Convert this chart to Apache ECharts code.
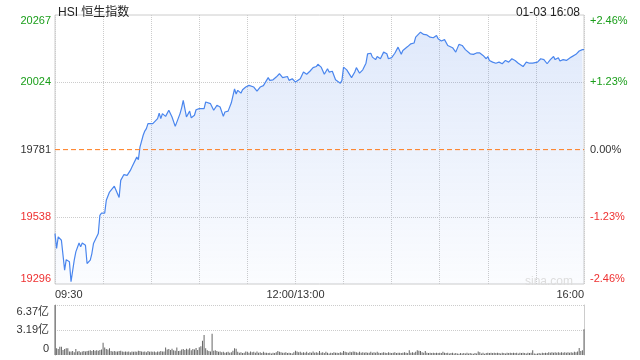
<!DOCTYPE html>
<html>
<head>
<meta charset="UTF-8">
<title>HSI 恒生指数</title>
<script src="https://cdn.jsdelivr.net/npm/echarts@6/dist/echarts.min.js"></script>
<style>
  html, body { margin: 0; padding: 0; background: #fff; }
  #chart { width: 640px; height: 360px; }
</style>
</head>
<body>
<div id="chart"></div>
<script>
// 分时：距 09:30 的分钟数（午休去掉，150 = 12:00/13:00，330 = 16:00）
const minutes = [
  0, 1, 2, 4, 6, 7, 9, 10, 12, 13,
  15, 16, 17, 19, 20, 22, 23, 24, 25, 27,
  28, 29, 31, 32, 34, 35, 37, 39, 40, 41,
  43, 45, 47, 48, 49, 51, 52, 53, 55, 56,
  57, 58, 61, 62, 64, 65, 66, 67, 69, 71,
  73, 75, 76, 78, 79, 80, 82, 84, 85, 87,
  88, 90, 93, 94, 97, 99, 101, 103, 105, 106,
  108, 110, 112, 113, 114, 116, 117, 119, 121, 122,
  124, 126, 128, 130, 133, 134, 136, 138, 140, 142,
  145, 146, 148, 150, 153, 155, 157, 159, 161, 163,
  164, 166, 168, 170, 171, 173, 175, 178, 179, 180,
  182, 185, 187, 188, 190, 192, 194, 195, 197, 198,
  200, 201, 203, 205, 207, 208, 210, 212, 214, 216,
  217, 220, 222, 224, 225, 228, 230, 232, 234, 236,
  238, 239, 241, 243, 245, 248, 250, 251, 252, 254,
  256, 259, 261, 263, 265, 267, 269, 270, 271, 273,
  275, 277, 279, 281, 283, 285, 287, 289, 292, 294,
  296, 298, 301, 303, 305, 307, 309, 311, 312, 314,
  315, 317, 319, 322, 323, 325, 327, 329, 330
]
const prices = [
  19478, 19424, 19466, 19454, 19346, 19384, 19376, 19304, 19382, 19412,
  19444, 19430, 19444, 19436, 19370, 19382, 19406, 19442, 19436, 19478,
  19544, 19552, 19552, 19598, 19628, 19622, 19649, 19622, 19608, 19670,
  19691, 19688, 19706, 19718, 19712, 19754, 19745, 19790, 19833, 19848,
  19857, 19875, 19875, 19881, 19893, 19913, 19893, 19911, 19901, 19923,
  19899, 19865, 19865, 19911, 19932, 19959, 19899, 19920, 19896, 19905,
  19925, 19929, 19929, 19953, 19947, 19923, 19941, 19935, 19901, 19917,
  19920, 19950, 20000, 19982, 19995, 19985, 19997, 20007, 20013, 20016,
  20007, 19992, 20007, 20012, 20041, 20031, 20033, 20043, 20055, 20041,
  20045, 20031, 20037, 20025, 20037, 20061, 20053, 20064, 20077, 20081,
  20089, 20079, 20053, 20073, 20061, 20064, 20033, 20021, 20031, 20079,
  20069, 20041, 20061, 20077, 20057, 20069, 20093, 20127, 20129, 20115,
  20106, 20117, 20109, 20133, 20127, 20109, 20113, 20129, 20151, 20125,
  20139, 20153, 20163, 20166, 20187, 20205, 20197, 20195, 20187, 20185,
  20193, 20181, 20173, 20178, 20157, 20149, 20133, 20139, 20161, 20157,
  20142, 20127, 20125, 20130, 20130, 20121, 20109, 20117, 20103, 20097,
  20093, 20097, 20091, 20103, 20097, 20109, 20103, 20093, 20081, 20097,
  20093, 20093, 20097, 20109, 20106, 20091, 20106, 20117, 20106, 20113,
  20101, 20106, 20103, 20115, 20117, 20125, 20137, 20142, 20142
]
// 成交额（亿），每分钟一根，分钟 0..330
const volumes = [
  6.37, 0.85, 0.75, 1.05, 1.05, 0.65, 0.75, 0.85, 0.85, 0.45, 0.45,
  0.5, 0.35, 0.75, 0.45, 0.5, 0.35, 0.45, 0.5, 0.45, 0.5,
  0.55, 0.6, 0.5, 0.65, 0.55, 0.6, 0.55, 0.65, 0.7, 1.57,
  0.95, 0.75, 0.7, 0.85, 0.5, 0.45, 0.5, 0.45, 0.45, 0.5,
  0.55, 0.45, 0.4, 0.45, 0.4, 0.45, 0.35, 0.45, 0.4, 0.45,
  0.4, 0.55, 0.5, 0.45, 0.4, 0.45, 0.35, 0.5, 0.4, 0.45,
  0.4, 0.45, 0.35, 0.45, 0.4, 0.5, 0.45, 0.45, 0.95, 0.7,
  0.75, 0.65, 0.8, 0.6, 0.55, 0.95, 0.5, 0.55, 0.7, 0.75,
  0.65, 0.8, 0.7, 0.85, 0.6, 0.75, 0.7, 0.9, 0.65, 1.0,
  1.1, 1.83, 2.55, 0.85, 0.6, 0.5, 0.45, 2.72, 0.55, 0.6,
  0.5, 0.4, 0.45, 0.35, 0.4, 0.3, 0.35, 0.4, 0.3, 0.35,
  0.55, 0.85, 0.8, 0.4, 0.3, 0.35, 0.25, 0.3, 0.45, 0.4,
  0.3, 0.45, 0.35, 0.4, 0.3, 0.45, 0.3, 0.35, 0.25, 0.4,
  0.3, 0.3, 0.25, 0.3, 0.2, 0.3, 0.25, 0.35, 0.5, 0.4,
  0.35, 0.3, 0.3, 0.35, 0.25, 0.3, 0.25, 0.2, 0.35, 0.55,
  0.45, 0.35, 0.4, 0.3, 0.35, 0.3, 0.4, 0.25, 0.35, 0.3,
  0.45, 0.3, 0.35, 0.3, 0.5, 0.3, 0.35, 0.25, 0.4, 0.3,
  0.2, 0.3, 0.25, 0.35, 0.3, 0.3, 0.25, 0.35, 0.3, 0.5,
  0.4, 0.35, 0.3, 0.4, 0.35, 0.45, 0.4, 0.35, 0.3, 0.4,
  0.3, 0.35, 0.3, 0.35, 0.3, 0.3, 0.4, 0.3, 0.35, 0.3,
  0.4, 0.3, 0.25, 0.3, 0.35, 0.3, 0.25, 0.35, 0.3, 0.25,
  0.3, 0.35, 0.25, 0.3, 0.3, 0.25, 0.3, 0.35, 0.3, 0.25,
  0.6, 0.3, 0.35, 0.3, 0.4, 0.6, 0.55, 0.5, 0.35, 0.3,
  0.5, 0.3, 0.25, 0.3, 0.25, 0.3, 0.25, 0.3, 0.25, 0.3,
  0.25, 0.4, 0.3, 0.25, 0.3, 0.2, 0.25, 0.3, 0.2, 0.25,
  0.2, 0.15, 0.25, 0.2, 0.25, 0.2, 0.3, 0.2, 0.25, 0.2,
  0.15, 0.25, 0.2, 0.45, 0.35, 0.2, 0.3, 0.15, 0.25, 0.3,
  0.25, 0.3, 0.25, 0.3, 0.25, 0.3, 0.25, 0.2, 0.3, 0.25,
  0.2, 0.3, 0.25, 0.3, 0.25, 0.3, 0.25, 0.3, 0.2, 0.3,
  0.25, 0.3, 0.25, 0.2, 0.3, 0.25, 0.3, 0.6, 0.2, 0.15,
  0.2, 0.25, 0.2, 0.3, 0.25, 0.3, 0.25, 0.35, 0.3, 0.35,
  0.3, 0.35, 0.3, 0.35, 0.3, 0.35, 0.3, 0.35, 0.3, 0.35,
  0.3, 0.35, 0.3, 0.4, 0.35, 0.45, 0.9, 0.5, 0.6, 3.27
]
const prevClose = 19781
const priceLabels = ['19296', '19538', '19781', '20024', '20267']
const volLabels = ['0', '3.19亿', '6.37亿']
const timeLabels = { 0: '09:30', 150: '12:00/13:00', 330: '16:00' }

const UP = '#1a9e1a'
const DOWN = '#ee3030'
const FLAT = '#333'
const FONT = '"Liberation Sans", Arial, "Noto Sans CJK SC", sans-serif'
const levelStyle = ['lo', 'dn', 'md', 'up', 'hi']
const rich = {
  lo: { color: DOWN, fontSize: 11, fontFamily: FONT, padding: [0, 0, 11, 0] },
  dn: { color: DOWN, fontSize: 11, fontFamily: FONT },
  md: { color: FLAT, fontSize: 11, fontFamily: FONT },
  up: { color: UP, fontSize: 11, fontFamily: FONT },
  hi: { color: UP, fontSize: 11, fontFamily: FONT, padding: [11, 0, 0, 0] }
}
const volRich = {
  lo: { color: '#333', fontSize: 11, fontFamily: FONT, padding: [0, 0, 12, 0] },
  md: { color: '#333', fontSize: 11, fontFamily: FONT },
  hi: { color: '#333', fontSize: 11, fontFamily: FONT, padding: [14, 0, 0, 0] }
}
const volStyle = ['lo', 'md', 'hi']

const chart = echarts.init(document.getElementById('chart'))
chart.setOption({
  animation: false,
  textStyle: { fontFamily: FONT },
  title: [
    { text: 'HSI 恒生指数', left: 53, top: 2, textStyle: { fontSize: 12, fontWeight: 'normal', color: '#222', fontFamily: FONT } },
    { text: '01-03 16:08', right: 55, top: 2, textStyle: { fontSize: 12, fontWeight: 'normal', color: '#222', fontFamily: FONT } },
    { text: 'sina.com', right: 62, top: 271, textStyle: { fontSize: 12, fontWeight: 'normal', color: '#ddd', fontFamily: FONT } }
  ],
  grid: [
    { left: 55, right: 56, top: 15, height: 269, show: true, borderColor: '#ccc', borderWidth: 1 },
    { left: 55, right: 56, top: 305, height: 50 }
  ],
  xAxis: [
    {
      type: 'value', gridIndex: 0, min: 0, max: 330, interval: 30,
      axisLine: { show: false }, axisTick: { show: false },
      splitLine: { show: true, lineStyle: { color: '#ccc', type: 'dotted' } },
      axisLabel: {
        margin: 5, fontSize: 11, color: '#333', fontFamily: FONT,
        alignMinLabel: 'left', alignMaxLabel: 'right',
        formatter: v => timeLabels[v] || ''
      }
    },
    { type: 'value', gridIndex: 1, min: 0, max: 330, show: false }
  ],
  yAxis: [
    {
      type: 'value', gridIndex: 0, min: 19296, max: 20267, interval: 242.75,
      axisLine: { show: false }, axisTick: { show: false },
      splitLine: { show: true, lineStyle: { color: ['transparent', '#ccc', 'transparent', '#ccc', 'transparent'], type: 'dotted' } },
      axisLabel: {
        margin: 4, rich,
        formatter: (v, i) => '{' + levelStyle[i] + '|' + priceLabels[i] + '}'
      }
    },
    {
      type: 'value', gridIndex: 0, position: 'right', min: -2.46, max: 2.46, interval: 1.23,
      axisLine: { show: false }, axisTick: { show: false }, splitLine: { show: false },
      axisLabel: {
        margin: 6, rich,
        formatter: (v, i) => '{' + levelStyle[i] + '|' + (v > 0 ? '+' : '') + v.toFixed(2) + '%}'
      }
    },
    {
      type: 'value', gridIndex: 1, min: 0, max: 6.37, interval: 3.185,
      axisLine: { show: true, lineStyle: { color: '#aaa' } }, axisTick: { show: false },
      splitLine: { show: true, lineStyle: { color: ['transparent', '#ccc', '#ccc'], type: 'dotted' } },
      axisLabel: {
        margin: 6, rich: volRich,
        formatter: (v, i) => '{' + volStyle[i] + '|' + volLabels[i] + '}'
      }
    },
    {
      type: 'value', gridIndex: 1, position: 'right', min: 0, max: 6.37,
      axisLine: { show: true, lineStyle: { color: '#ccc' } }, axisTick: { show: false },
      axisLabel: { show: false }, splitLine: { show: false }
    }
  ],
  series: [
    {
      // 昨收
      type: 'line', xAxisIndex: 0, yAxisIndex: 0, z: 3,
      data: [[0, prevClose], [330, prevClose]],
      showSymbol: false, symbol: 'none', silent: true,
      color: '#ff7a1a',
      lineStyle: { color: '#ff7a1a', type: [5, 3], width: 1 }
    },
    {
      type: 'line', xAxisIndex: 0, yAxisIndex: 0, z: 2,
      data: minutes.map((m, i) => [m, prices[i]]),
      showSymbol: false, symbol: 'none', silent: true,
      lineStyle: { color: '#4a86ee', width: 1.2 },
      areaStyle: {
        origin: 'start',
        color: new echarts.graphic.LinearGradient(0, 0, 0, 1, [
          { offset: 0, color: 'rgba(70,125,230,0.24)' },
          { offset: 1, color: 'rgba(70,125,230,0.03)' }
        ])
      }
    },
    {
      type: 'bar', xAxisIndex: 1, yAxisIndex: 2,
      data: volumes.map((v, i) => [i, v]),
      barWidth: 1, silent: true,
      itemStyle: { color: '#666' }
    }
  ]
})
</script>
</body>
</html>
